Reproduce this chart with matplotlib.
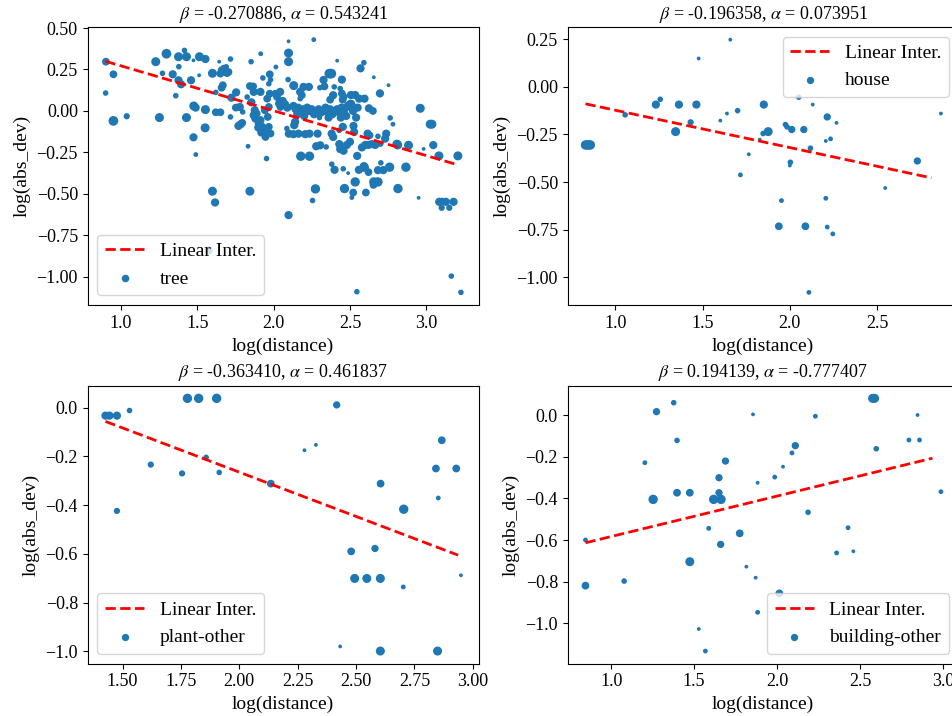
import numpy as np
import matplotlib
matplotlib.use("Agg")
import matplotlib.pyplot as plt

# fonts: serif text, stix for the greek letters in the titles
plt.rcParams['font.family'] = ['Liberation Serif', 'DejaVu Serif']
plt.rcParams['mathtext.fontset'] = 'stix'
plt.rcParams['font.size'] = 13

categories = ["tree", "house", "plant-other", "building-other"]
betas = [-0.270886, -0.196358, -0.363410, 0.194139]
alphas = [0.543241, 0.073951, 0.461837, -0.777407]
# x range over which the fitted line was drawn
fit_lo = [0.90, 0.83, 1.427, 0.845]
fit_hi = [3.20, 2.81, 2.937, 2.937]

# (log distance, log abs_dev, weight)
tree_pts = [
    (0.903, 0.297, 7), (0.952, 0.221, 7), (0.901, 0.108, 3), (0.952, -0.060, 12), (1.039, -0.032, 4),
    (1.229, 0.297, 10), (1.299, 0.345, 12), (1.273, 0.227, 3), (1.340, 0.221, 8), (1.360, 0.092, 3),
    (1.253, -0.040, 10), (1.378, 0.327, 10), (1.417, 0.365, 3), (1.430, 0.327, 10), (1.476, 0.305, 1),
    (1.515, 0.327, 10), (1.554, 0.313, 8), (1.380, 0.267, 3), (1.378, 0.185, 8), (1.395, 0.161, 8),
    (1.460, 0.185, 8), (1.513, 0.215, 1), (1.478, 0.030, 10), (1.490, 0.020, 8), (1.554, 0.008, 10),
    (1.430, -0.040, 10), (1.552, -0.102, 10), (1.476, -0.159, 8), (1.491, -0.263, 2),
    (1.600, 0.227, 10), (1.644, 0.297, 1), (1.660, 0.245, 7), (1.675, 0.255, 7), (1.652, 0.225, 7),
    (1.695, 0.228, 7), (1.705, 0.235, 7), (1.690, 0.266, 3), (1.718, 0.313, 3), (1.668, 0.155, 7),
    (1.660, 0.140, 7), (1.622, 0.112, 3), (1.622, -0.008, 7), (1.652, -0.008, 7), (1.718, -0.036, 3),
    (1.755, 0.112, 8), (1.779, 0.024, 8), (1.753, 0.020, 7), (1.724, 0.080, 8), (1.770, -0.090, 8),
    (1.785, -0.080, 8), (1.795, -0.072, 7), (1.798, -0.006, 3), (1.833, -0.213, 2), (1.853, 0.297, 3),
    (1.827, 0.084, 3), (1.845, 0.150, 7), (1.866, 0.148, 7), (1.870, 0.115, 8), (1.914, 0.115, 8),
    (1.855, 0.052, 8), (1.877, 0.004, 8), (1.888, -0.016, 8), (1.870, -0.026, 8), (1.881, -0.046, 8),
    (1.914, -0.056, 8), (1.903, -0.076, 8), (1.925, -0.096, 8), (1.936, -0.116, 8), (1.958, -0.133, 7),
    (1.947, -0.157, 7), (1.920, -0.130, 8), (1.900, -0.100, 8), (1.916, 0.345, 2), (1.930, 0.199, 3),
    (1.958, 0.074, 7), (1.975, 0.104, 7), (1.969, 0.024, 7), (1.943, 0.004, 7), (1.962, -0.036, 7),
    (1.975, 0.221, 7), (1.980, 0.188, 3), (1.969, 0.164, 3), (2.015, 0.265, 2), (2.012, 0.104, 7),
    (2.023, 0.084, 7), (2.035, 0.044, 7), (2.045, 0.024, 7), (1.954, -0.287, 3), (1.980, -0.136, 7),
    (1.969, -0.096, 7),
    (2.098, 0.420, 1), (2.263, 0.430, 2), (2.098, 0.349, 10), (2.098, 0.297, 10), (2.416, 0.303, 1),
    (2.591, 0.291, 3), (2.569, 0.257, 8), (2.365, 0.225, 12), (2.378, 0.225, 12), (2.327, 0.187, 8),
    (2.447, 0.189, 8), (2.095, 0.189, 3), (2.132, 0.153, 10), (2.656, 0.203, 1), (2.752, 0.155, 1),
    (2.696, 0.106, 8), (2.196, 0.145, 8), (2.231, 0.145, 8), (2.303, 0.140, 3), (2.333, 0.148, 7),
    (2.043, 0.115, 8), (2.174, 0.115, 8), (2.185, 0.095, 7), (2.397, 0.145, 3), (2.436, 0.135, 3),
    (2.447, 0.105, 7), (2.458, 0.085, 7), (2.452, 0.068, 7), (2.390, 0.095, 8), (2.370, 0.068, 7),
    (2.506, 0.096, 8), (2.534, 0.096, 8), (2.560, 0.074, 8), (2.595, 0.074, 8), (2.174, 0.074, 3),
    (2.060, 0.060, 8), (2.075, 0.040, 8), (2.090, 0.020, 8),
    (2.130, 0.030, 8), (2.145, 0.010, 8), (2.160, 0.020, 8), (2.175, 0.000, 8), (2.190, 0.010, 8),
    (2.205, -0.010, 8), (2.220, 0.020, 8), (2.235, 0.000, 8), (2.250, 0.010, 8), (2.265, -0.020, 8),
    (2.280, 0.000, 8), (2.295, 0.010, 8), (2.310, -0.010, 8), (2.325, 0.000, 8), (2.340, 0.020, 8),
    (2.355, -0.010, 8), (2.370, 0.010, 8), (2.385, -0.020, 8), (2.400, 0.000, 8), (2.415, 0.010, 8),
    (2.430, -0.010, 8), (2.445, 0.020, 8), (2.460, 0.000, 8), (2.475, -0.030, 8), (2.490, 0.030, 11),
    (2.505, 0.040, 11), (2.520, 0.000, 8), (2.540, -0.040, 8), (2.200, -0.030, 8), (2.155, -0.020, 8),
    (2.300, -0.040, 3), (2.360, -0.040, 8), (2.440, -0.040, 8), (2.550, 0.020, 8),
    (2.624, 0.016, 8), (2.650, 0.000, 7), (2.763, -0.042, 3), (2.781, -0.080, 2), (2.960, 0.016, 10),
    (3.025, -0.080, 10), (3.036, -0.080, 10), (3.045, -0.206, 8), (2.982, -0.229, 1), (3.082, -0.271, 10),
    (3.206, -0.271, 10), (2.087, -0.106, 3), (2.135, -0.086, 8), (2.141, -0.066, 8),
    (2.100, -0.137, 8), (2.130, -0.140, 8), (2.163, -0.137, 8), (2.207, -0.140, 8), (2.235, -0.137, 8),
    (2.288, -0.137, 8), (2.380, -0.137, 8), (2.390, -0.157, 8), (2.453, -0.096, 8), (2.523, -0.090, 8),
    (2.527, -0.127, 8), (2.430, -0.117, 3), (2.615, -0.137, 8), (2.628, -0.147, 7), (2.683, -0.153, 3),
    (2.737, -0.137, 8), (2.730, -0.167, 8), (2.279, -0.213, 8), (2.305, -0.207, 8), (2.344, -0.217, 3),
    (2.430, -0.200, 8), (2.447, -0.215, 8), (2.480, -0.205, 8), (2.500, -0.186, 8), (2.578, -0.220, 8),
    (2.600, -0.205, 8), (2.620, -0.205, 8), (2.643, -0.200, 8), (2.665, -0.205, 8), (2.700, -0.200, 3),
    (2.807, -0.200, 10), (2.812, -0.205, 10), (2.883, -0.207, 10), (2.178, -0.273, 11), (2.235, -0.273, 11),
    (2.547, -0.271, 8), (2.381, -0.321, 3), (2.591, -0.333, 8), (2.702, -0.313, 3), (2.436, -0.230, 8),
    (2.458, -0.240, 8),
    (2.399, -0.355, 8), (2.456, -0.349, 3), (2.488, -0.375, 1), (2.558, -0.355, 8), (2.593, -0.339, 11),
    (2.621, -0.369, 7), (2.683, -0.357, 8), (2.718, -0.357, 8), (2.759, -0.339, 11), (2.866, -0.339, 11),
    (2.274, -0.470, 11), (2.464, -0.468, 11), (2.534, -0.428, 11), (2.521, -0.492, 7), (2.512, -0.522, 2),
    (2.604, -0.492, 7), (2.656, -0.428, 11), (2.683, -0.428, 11), (2.654, -0.446, 7), (2.814, -0.468, 11),
    (2.949, -0.524, 1), (2.255, -0.540, 3), (2.098, -0.628, 8), (3.084, -0.548, 8), (3.102, -0.548, 8),
    (3.128, -0.548, 8), (3.178, -0.548, 8), (3.100, -0.584, 4), (3.150, -0.584, 4), (3.163, -0.996, 3),
    (2.545, -1.090, 3), (3.226, -1.094, 3),
    (1.600, -0.484, 10), (1.617, -0.552, 8), (1.845, -0.484, 10), (1.574, -0.841, 8),
]

house_pts = [
    (0.830, -0.305, 11), (0.840, -0.305, 11), (0.850, -0.305, 11), (0.858, -0.305, 11),
    (1.057, -0.147, 3), (1.233, -0.093, 8), (1.258, -0.065, 3), (1.365, -0.093, 8), (1.465, -0.093, 8),
    (1.346, -0.235, 10), (1.432, -0.186, 4), (1.478, 0.149, 1), (1.659, 0.248, 1), (1.602, -0.177, 1),
    (1.640, -0.140, 1), (1.701, -0.125, 3), (1.765, -0.354, 1), (1.828, -0.277, 1), (1.851, -0.093, 8),
    (1.847, -0.245, 3), (1.876, -0.235, 10), (1.975, -0.198, 3), (1.984, -0.210, 3), (2.011, -0.224, 6),
    (2.003, -0.396, 3), (2.000, -0.413, 1), (2.051, -0.054, 3), (2.080, -0.224, 6), (2.131, -0.093, 1),
    (2.118, -0.322, 3), (2.214, -0.158, 6), (2.267, -0.189, 1), (2.233, -0.273, 2), (2.206, -0.284, 1),
    (2.730, -0.389, 6), (2.865, -0.140, 1), (1.717, -0.462, 2), (1.952, -0.597, 2), (1.937, -0.732, 7),
    (2.089, -0.732, 7), (2.206, -0.585, 2), (2.214, -0.736, 2), (2.246, -0.772, 2), (2.109, -1.079, 2),
    (2.546, -0.531, 1),
]

plant_pts = [
    (1.427, -0.033, 8), (1.444, -0.033, 8), (1.476, -0.033, 8), (1.530, -0.012, 3), (1.476, -0.424, 4),
    (1.621, -0.234, 4), (1.755, -0.270, 4), (1.778, 0.038, 11), (1.826, 0.038, 11), (1.903, 0.038, 11),
    (1.858, -0.204, 3), (1.914, -0.266, 3), (2.135, -0.312, 7), (2.279, -0.175, 1), (2.328, -0.153, 1),
    (2.417, 0.011, 6), (2.605, -0.312, 7), (2.704, -0.417, 11), (2.842, -0.250, 7), (2.867, -0.134, 7),
    (2.852, -0.371, 2), (2.929, -0.250, 7), (2.479, -0.590, 7), (2.581, -0.578, 6), (2.494, -0.701, 10),
    (2.546, -0.701, 10), (2.604, -0.701, 10), (2.702, -0.736, 2), (2.949, -0.688, 1), (2.432, -0.980, 1),
    (2.604, -0.999, 10), (2.849, -0.999, 10),
]

building_pts = [
    (1.203, -0.229, 2), (1.253, -0.405, 11), (1.273, 0.016, 6), (1.377, 0.059, 3), (1.397, -0.122, 3),
    (1.397, -0.373, 7), (1.474, -0.373, 7), (1.588, -0.544, 2), (1.618, -0.405, 11), (1.662, -0.405, 11),
    (1.650, -0.301, 6), (1.650, -0.373, 6), (1.689, -0.221, 6), (1.775, -0.568, 7), (1.855, 0.003, 1),
    (1.883, -0.325, 1), (1.986, -0.298, 2), (2.036, -0.248, 1), (2.090, -0.182, 2), (2.110, -0.147, 6),
    (2.187, -0.467, 3), (2.231, -0.006, 2), (2.428, -0.541, 2), (2.576, 0.080, 10), (2.588, 0.080, 10),
    (2.598, -0.162, 3), (2.795, -0.120, 2), (2.847, 0.000, 1), (2.859, -0.120, 2), (2.988, -0.368, 2),
    (0.845, -0.600, 2), (0.845, -0.819, 7), (1.078, -0.797, 3), (1.474, -0.704, 10), (1.528, -1.027, 1),
    (1.568, -1.133, 2), (1.660, -0.621, 6), (1.815, -0.728, 1), (1.871, -0.781, 1), (1.883, -0.947, 2),
    (2.014, -0.856, 7), (2.359, -0.662, 2), (2.460, -0.654, 1),
]

all_pts = [tree_pts, house_pts, plant_pts, building_pts]
legend_locs = ["lower left", "upper right", "lower left", "lower right"]

fig = plt.figure(figsize=(9.53, 7.16), dpi=100)
W, H = 953.0, 716.0
# axes boxes in pixels: left, top
boxes = [(87.7, 27.0), (567.7, 27.0), (87.7, 385.7), (567.7, 385.7)]
aw, ah = 391.0, 278.0

for k in range(4):
    left, top = boxes[k]
    ax = fig.add_axes([left / W, (H - top - ah) / H, aw / W, ah / H])
    pts = np.array(all_pts[k])
    x, y, w = pts[:, 0], pts[:, 1], pts[:, 2]
    xl = np.array([fit_lo[k], fit_hi[k]])
    ax.plot(xl, alphas[k] + betas[k] * xl, 'r--', lw=2, label="Linear Inter.")
    ax.scatter(x, y, s=w * 3.0, color='#1f77b4', label=categories[k])
    ax.set_title(r"$\beta$ = %f, $\alpha$ = %f" % (betas[k], alphas[k]), fontsize=13)
    ax.set_xlabel("log(distance)", fontsize=14)
    ax.set_ylabel("log(abs_dev)", fontsize=14)
    ax.legend(loc=legend_locs[k], fontsize=14)

plt.savefig("out.png", dpi=100)
